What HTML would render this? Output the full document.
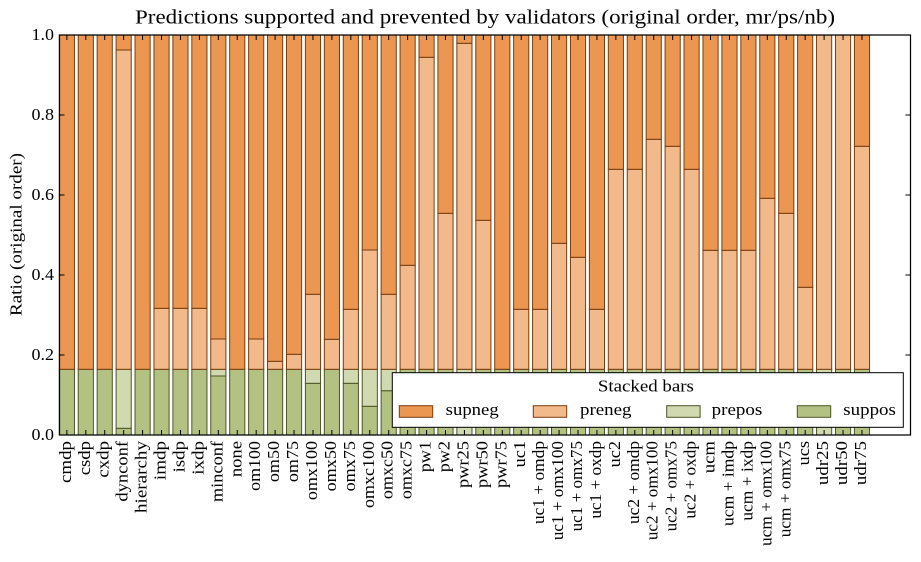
<!DOCTYPE html>
<html><head><meta charset="utf-8"><style>
html,body{margin:0;padding:0;background:#fff;}
svg{display:block;}
text{font-family:"Liberation Serif",serif;fill:#000;}
.a{fill:#b3c282;stroke:#4d5526;stroke-width:1}
.b{fill:#d0d9b0;stroke:#4d5526;stroke-width:1}
.c{fill:#f2b98b;stroke:#7a3c0c;stroke-width:1}
.d{fill:#eb9752;stroke:#7a3c0c;stroke-width:1}
.xl{font-size:17px;}
</style></head><body>
<svg width="921" height="562" viewBox="0 0 921 562" xmlns="http://www.w3.org/2000/svg">
<rect x="0" y="0" width="921" height="562" fill="#fff"/>
<text x="135" y="23.3" font-size="20" textLength="700" lengthAdjust="spacingAndGlyphs">Predictions supported and prevented by validators (original order, mr/ps/nb)</text>

<g>
<!-- 0 cmdp -->
<rect class="a" x="59.30" y="369.3" width="15.14" height="65.7"/><rect class="d" x="59.30" y="35" width="15.14" height="334.3"/>
<!-- 1 csdp -->
<rect class="a" x="78.23" y="369.3" width="15.14" height="65.7"/><rect class="d" x="78.23" y="35" width="15.14" height="334.3"/>
<!-- 2 cxdp -->
<rect class="a" x="97.16" y="369.3" width="15.14" height="65.7"/><rect class="d" x="97.16" y="35" width="15.14" height="334.3"/>
<!-- 3 dynconf -->
<rect class="a" x="116.09" y="428.3" width="15.14" height="6.7"/><rect class="b" x="116.09" y="369.3" width="15.14" height="59"/><rect class="c" x="116.09" y="50" width="15.14" height="319.3"/><rect class="d" x="116.09" y="35" width="15.14" height="15"/>
<!-- 4 hierarchy -->
<rect class="a" x="135.02" y="369.3" width="15.14" height="65.7"/><rect class="d" x="135.02" y="35" width="15.14" height="334.3"/>
<!-- 5 imdp -->
<rect class="a" x="153.96" y="369.3" width="15.14" height="65.7"/><rect class="c" x="153.96" y="308.3" width="15.14" height="61"/><rect class="d" x="153.96" y="35" width="15.14" height="273.3"/>
<!-- 6 isdp -->
<rect class="a" x="172.89" y="369.3" width="15.14" height="65.7"/><rect class="c" x="172.89" y="308.3" width="15.14" height="61"/><rect class="d" x="172.89" y="35" width="15.14" height="273.3"/>
<!-- 7 ixdp -->
<rect class="a" x="191.82" y="369.3" width="15.14" height="65.7"/><rect class="c" x="191.82" y="308.3" width="15.14" height="61"/><rect class="d" x="191.82" y="35" width="15.14" height="273.3"/>
<!-- 8 minconf -->
<rect class="a" x="210.75" y="376" width="15.14" height="59"/><rect class="b" x="210.75" y="369.3" width="15.14" height="6.7"/><rect class="c" x="210.75" y="339" width="15.14" height="30.3"/><rect class="d" x="210.75" y="35" width="15.14" height="304"/>
<!-- 9 none -->
<rect class="a" x="229.68" y="369.3" width="15.14" height="65.7"/><rect class="d" x="229.68" y="35" width="15.14" height="334.3"/>
<!-- 10 om100 -->
<rect class="a" x="248.61" y="369.3" width="15.14" height="65.7"/><rect class="c" x="248.61" y="339" width="15.14" height="30.3"/><rect class="d" x="248.61" y="35" width="15.14" height="304"/>
<!-- 11 om50 -->
<rect class="a" x="267.54" y="369.3" width="15.14" height="65.7"/><rect class="c" x="267.54" y="361.3" width="15.14" height="8"/><rect class="d" x="267.54" y="35" width="15.14" height="326.3"/>
<!-- 12 om75 -->
<rect class="a" x="286.47" y="369.3" width="15.14" height="65.7"/><rect class="c" x="286.47" y="354.3" width="15.14" height="15"/><rect class="d" x="286.47" y="35" width="15.14" height="319.3"/>
<!-- 13 omx100 -->
<rect class="a" x="305.40" y="383.3" width="15.14" height="51.7"/><rect class="b" x="305.40" y="369.3" width="15.14" height="14"/><rect class="c" x="305.40" y="294.3" width="15.14" height="75"/><rect class="d" x="305.40" y="35" width="15.14" height="259.3"/>
<!-- 14 omx50 -->
<rect class="a" x="324.33" y="369.3" width="15.14" height="65.7"/><rect class="c" x="324.33" y="339.3" width="15.14" height="30"/><rect class="d" x="324.33" y="35" width="15.14" height="304.3"/>
<!-- 15 omx75 -->
<rect class="a" x="343.27" y="383.3" width="15.14" height="51.7"/><rect class="b" x="343.27" y="369.3" width="15.14" height="14"/><rect class="c" x="343.27" y="309.3" width="15.14" height="60"/><rect class="d" x="343.27" y="35" width="15.14" height="274.3"/>
<!-- 16 omxc100 -->
<rect class="a" x="362.20" y="406.3" width="15.14" height="28.7"/><rect class="b" x="362.20" y="369.3" width="15.14" height="37"/><rect class="c" x="362.20" y="250" width="15.14" height="119.3"/><rect class="d" x="362.20" y="35" width="15.14" height="215"/>
<!-- 17 omxc50 -->
<rect class="a" x="381.13" y="390.7" width="15.14" height="44.3"/><rect class="b" x="381.13" y="369.3" width="15.14" height="21.4"/><rect class="c" x="381.13" y="294.3" width="15.14" height="75"/><rect class="d" x="381.13" y="35" width="15.14" height="259.3"/>
<!-- 18 omxc75 -->
<rect class="a" x="400.06" y="369.3" width="15.14" height="65.7"/><rect class="c" x="400.06" y="265.3" width="15.14" height="104"/><rect class="d" x="400.06" y="35" width="15.14" height="230.3"/>
<!-- 19 pw1 -->
<rect class="a" x="418.99" y="369.3" width="15.14" height="65.7"/><rect class="c" x="418.99" y="57.3" width="15.14" height="312"/><rect class="d" x="418.99" y="35" width="15.14" height="22.3"/>
<!-- 20 pw2 -->
<rect class="a" x="437.92" y="369.3" width="15.14" height="65.7"/><rect class="c" x="437.92" y="213.3" width="15.14" height="156"/><rect class="d" x="437.92" y="35" width="15.14" height="178.3"/>
<!-- 21 pwr25 -->
<rect class="b" x="456.85" y="369.3" width="15.14" height="65.7"/><rect class="c" x="456.85" y="43.3" width="15.14" height="326"/><rect class="d" x="456.85" y="35" width="15.14" height="8.3"/>
<!-- 22 pwr50 -->
<rect class="a" x="475.78" y="369.3" width="15.14" height="65.7"/><rect class="c" x="475.78" y="220.3" width="15.14" height="149"/><rect class="d" x="475.78" y="35" width="15.14" height="185.3"/>
<!-- 23 pwr75 -->
<rect class="a" x="494.71" y="369.3" width="15.14" height="65.7"/><rect class="d" x="494.71" y="35" width="15.14" height="334.3"/>
<!-- 24 uc1 -->
<rect class="a" x="513.64" y="369.3" width="15.14" height="65.7"/><rect class="c" x="513.64" y="309.3" width="15.14" height="60"/><rect class="d" x="513.64" y="35" width="15.14" height="274.3"/>
<!-- 25 uc1 + omdp -->
<rect class="a" x="532.58" y="369.3" width="15.14" height="65.7"/><rect class="c" x="532.58" y="309.3" width="15.14" height="60"/><rect class="d" x="532.58" y="35" width="15.14" height="274.3"/>
<!-- 26 uc1 + omx100 -->
<rect class="a" x="551.51" y="369.3" width="15.14" height="65.7"/><rect class="c" x="551.51" y="243.3" width="15.14" height="126"/><rect class="d" x="551.51" y="35" width="15.14" height="208.3"/>
<!-- 27 uc1 + omx75 -->
<rect class="a" x="570.44" y="369.3" width="15.14" height="65.7"/><rect class="c" x="570.44" y="257.3" width="15.14" height="112"/><rect class="d" x="570.44" y="35" width="15.14" height="222.3"/>
<!-- 28 uc1 + oxdp -->
<rect class="a" x="589.37" y="369.3" width="15.14" height="65.7"/><rect class="c" x="589.37" y="309.3" width="15.14" height="60"/><rect class="d" x="589.37" y="35" width="15.14" height="274.3"/>
<!-- 29 uc2 -->
<rect class="a" x="608.30" y="369.3" width="15.14" height="65.7"/><rect class="c" x="608.30" y="169.3" width="15.14" height="200"/><rect class="d" x="608.30" y="35" width="15.14" height="134.3"/>
<!-- 30 uc2 + omdp -->
<rect class="a" x="627.23" y="369.3" width="15.14" height="65.7"/><rect class="c" x="627.23" y="169.3" width="15.14" height="200"/><rect class="d" x="627.23" y="35" width="15.14" height="134.3"/>
<!-- 31 uc2 + omx100 -->
<rect class="a" x="646.16" y="369.3" width="15.14" height="65.7"/><rect class="c" x="646.16" y="139.3" width="15.14" height="230"/><rect class="d" x="646.16" y="35" width="15.14" height="104.3"/>
<!-- 32 uc2 + omx75 -->
<rect class="a" x="665.09" y="369.3" width="15.14" height="65.7"/><rect class="c" x="665.09" y="146.3" width="15.14" height="223"/><rect class="d" x="665.09" y="35" width="15.14" height="111.3"/>
<!-- 33 uc2 + oxdp -->
<rect class="a" x="684.02" y="369.3" width="15.14" height="65.7"/><rect class="c" x="684.02" y="169.3" width="15.14" height="200"/><rect class="d" x="684.02" y="35" width="15.14" height="134.3"/>
<!-- 34 ucm -->
<rect class="a" x="702.95" y="369.3" width="15.14" height="65.7"/><rect class="c" x="702.95" y="250.3" width="15.14" height="119"/><rect class="d" x="702.95" y="35" width="15.14" height="215.3"/>
<!-- 35 ucm + imdp -->
<rect class="a" x="721.89" y="369.3" width="15.14" height="65.7"/><rect class="c" x="721.89" y="250.3" width="15.14" height="119"/><rect class="d" x="721.89" y="35" width="15.14" height="215.3"/>
<!-- 36 ucm + ixdp -->
<rect class="a" x="740.82" y="369.3" width="15.14" height="65.7"/><rect class="c" x="740.82" y="250.3" width="15.14" height="119"/><rect class="d" x="740.82" y="35" width="15.14" height="215.3"/>
<!-- 37 ucm + omx100 -->
<rect class="a" x="759.75" y="369.3" width="15.14" height="65.7"/><rect class="c" x="759.75" y="198.3" width="15.14" height="171"/><rect class="d" x="759.75" y="35" width="15.14" height="163.3"/>
<!-- 38 ucm + omx75 -->
<rect class="a" x="778.68" y="369.3" width="15.14" height="65.7"/><rect class="c" x="778.68" y="213.3" width="15.14" height="156"/><rect class="d" x="778.68" y="35" width="15.14" height="178.3"/>
<!-- 39 ucs -->
<rect class="a" x="797.61" y="369.3" width="15.14" height="65.7"/><rect class="c" x="797.61" y="287.3" width="15.14" height="82"/><rect class="d" x="797.61" y="35" width="15.14" height="252.3"/>
<!-- 40 udr25 -->
<rect class="b" x="816.54" y="369.3" width="15.14" height="65.7"/><rect class="c" x="816.54" y="35" width="15.14" height="334.3"/>
<!-- 41 udr50 -->
<rect class="a" x="835.47" y="369.3" width="15.14" height="65.7"/><rect class="c" x="835.47" y="35" width="15.14" height="334.3"/>
<!-- 42 udr75 -->
<rect class="a" x="854.40" y="369.3" width="15.14" height="65.7"/><rect class="c" x="854.40" y="146.3" width="15.14" height="223"/><rect class="d" x="854.40" y="35" width="15.14" height="111.3"/>
</g>

<!-- ticks -->
<path stroke="#000" stroke-width="1" fill="none" d="
M66.87 435V430M85.80 435V430M104.73 435V430M123.66 435V430M142.59 435V430M161.53 435V430M180.46 435V430M199.39 435V430M218.32 435V430M237.25 435V430M256.18 435V430M275.11 435V430M294.04 435V430M312.97 435V430M331.90 435V430M350.84 435V430M369.77 435V430M388.70 435V430M407.63 435V430M426.56 435V430M445.49 435V430M464.42 435V430M483.35 435V430M502.28 435V430M521.21 435V430M540.15 435V430M559.08 435V430M578.01 435V430M596.94 435V430M615.87 435V430M634.80 435V430M653.73 435V430M672.66 435V430M691.59 435V430M710.52 435V430M729.46 435V430M748.39 435V430M767.32 435V430M786.25 435V430M805.18 435V430M824.11 435V430M843.04 435V430M861.97 435V430
M66.87 35V40M85.80 35V40M104.73 35V40M123.66 35V40M142.59 35V40M161.53 35V40M180.46 35V40M199.39 35V40M218.32 35V40M237.25 35V40M256.18 35V40M275.11 35V40M294.04 35V40M312.97 35V40M331.90 35V40M350.84 35V40M369.77 35V40M388.70 35V40M407.63 35V40M426.56 35V40M445.49 35V40M464.42 35V40M483.35 35V40M502.28 35V40M521.21 35V40M540.15 35V40M559.08 35V40M578.01 35V40M596.94 35V40M615.87 35V40M634.80 35V40M653.73 35V40M672.66 35V40M691.59 35V40M710.52 35V40M729.46 35V40M748.39 35V40M767.32 35V40M786.25 35V40M805.18 35V40M824.11 35V40M843.04 35V40M861.97 35V40
M59.5 355H64.5M59.5 275H64.5M59.5 195H64.5M59.5 115H64.5
M910.5 355H905.5M910.5 275H905.5M910.5 195H905.5M910.5 115H905.5"/>
<rect x="59.5" y="35" width="851" height="400" fill="none" stroke="#000" stroke-width="1.25"/>

<!-- y tick labels -->
<g font-size="17" text-anchor="end">
<text x="54" y="439.8" textLength="22.5" lengthAdjust="spacingAndGlyphs">0.0</text>
<text x="54" y="359.8" textLength="22.5" lengthAdjust="spacingAndGlyphs">0.2</text>
<text x="54" y="279.8" textLength="22.5" lengthAdjust="spacingAndGlyphs">0.4</text>
<text x="54" y="199.8" textLength="22.5" lengthAdjust="spacingAndGlyphs">0.6</text>
<text x="54" y="119.8" textLength="22.5" lengthAdjust="spacingAndGlyphs">0.8</text>
<text x="54" y="39.8" textLength="22.5" lengthAdjust="spacingAndGlyphs">1.0</text>
</g>
<text font-size="17" text-anchor="middle" transform="translate(21.5,234.5) rotate(-90)" textLength="163" lengthAdjust="spacingAndGlyphs">Ratio (original order)</text>

<!-- x tick labels -->
<g class="xl" text-anchor="end">
<text transform="translate(70.87,441) rotate(-90)" textLength="42" lengthAdjust="spacingAndGlyphs">cmdp</text>
<text transform="translate(89.80,441) rotate(-90)" textLength="34.3" lengthAdjust="spacingAndGlyphs">csdp</text>
<text transform="translate(108.73,441) rotate(-90)" textLength="36.7" lengthAdjust="spacingAndGlyphs">cxdp</text>
<text transform="translate(127.66,441) rotate(-90)" textLength="60.6" lengthAdjust="spacingAndGlyphs">dynconf</text>
<text transform="translate(146.59,441) rotate(-90)" textLength="72" lengthAdjust="spacingAndGlyphs">hierarchy</text>
<text transform="translate(165.53,441) rotate(-90)" textLength="39.1" lengthAdjust="spacingAndGlyphs">imdp</text>
<text transform="translate(184.46,441) rotate(-90)" textLength="31.4" lengthAdjust="spacingAndGlyphs">isdp</text>
<text transform="translate(203.39,441) rotate(-90)" textLength="33.8" lengthAdjust="spacingAndGlyphs">ixdp</text>
<text transform="translate(222.32,441) rotate(-90)" textLength="61.1" lengthAdjust="spacingAndGlyphs">minconf</text>
<text transform="translate(241.25,441) rotate(-90)" textLength="36.2" lengthAdjust="spacingAndGlyphs">none</text>
<text transform="translate(260.18,441) rotate(-90)" textLength="49.9" lengthAdjust="spacingAndGlyphs">om100</text>
<text transform="translate(279.11,441) rotate(-90)" textLength="41.1" lengthAdjust="spacingAndGlyphs">om50</text>
<text transform="translate(298.04,441) rotate(-90)" textLength="41.1" lengthAdjust="spacingAndGlyphs">om75</text>
<text transform="translate(316.97,441) rotate(-90)" textLength="59.2" lengthAdjust="spacingAndGlyphs">omx100</text>
<text transform="translate(335.90,441) rotate(-90)" textLength="50.4" lengthAdjust="spacingAndGlyphs">omx50</text>
<text transform="translate(354.84,441) rotate(-90)" textLength="50.4" lengthAdjust="spacingAndGlyphs">omx75</text>
<text transform="translate(373.77,441) rotate(-90)" textLength="67" lengthAdjust="spacingAndGlyphs">omxc100</text>
<text transform="translate(392.70,441) rotate(-90)" textLength="58.2" lengthAdjust="spacingAndGlyphs">omxc50</text>
<text transform="translate(411.63,441) rotate(-90)" textLength="58.2" lengthAdjust="spacingAndGlyphs">omxc75</text>
<text transform="translate(430.56,441) rotate(-90)" textLength="31.3" lengthAdjust="spacingAndGlyphs">pw1</text>
<text transform="translate(449.49,441) rotate(-90)" textLength="31.3" lengthAdjust="spacingAndGlyphs">pw2</text>
<text transform="translate(468.42,441) rotate(-90)" textLength="47" lengthAdjust="spacingAndGlyphs">pwr25</text>
<text transform="translate(487.35,441) rotate(-90)" textLength="47" lengthAdjust="spacingAndGlyphs">pwr50</text>
<text transform="translate(506.28,441) rotate(-90)" textLength="47" lengthAdjust="spacingAndGlyphs">pwr75</text>
<text transform="translate(525.21,441) rotate(-90)" textLength="26.4" lengthAdjust="spacingAndGlyphs">uc1</text>
<text transform="translate(544.15,441) rotate(-90)" textLength="83" lengthAdjust="spacingAndGlyphs">uc1 + omdp</text>
<text transform="translate(563.08,441) rotate(-90)" textLength="99.2" lengthAdjust="spacingAndGlyphs">uc1 + omx100</text>
<text transform="translate(582.01,441) rotate(-90)" textLength="90.4" lengthAdjust="spacingAndGlyphs">uc1 + omx75</text>
<text transform="translate(600.94,441) rotate(-90)" textLength="77.7" lengthAdjust="spacingAndGlyphs">uc1 + oxdp</text>
<text transform="translate(619.87,441) rotate(-90)" textLength="26.4" lengthAdjust="spacingAndGlyphs">uc2</text>
<text transform="translate(638.80,441) rotate(-90)" textLength="83" lengthAdjust="spacingAndGlyphs">uc2 + omdp</text>
<text transform="translate(657.73,441) rotate(-90)" textLength="99.2" lengthAdjust="spacingAndGlyphs">uc2 + omx100</text>
<text transform="translate(676.66,441) rotate(-90)" textLength="90.4" lengthAdjust="spacingAndGlyphs">uc2 + omx75</text>
<text transform="translate(695.59,441) rotate(-90)" textLength="77.7" lengthAdjust="spacingAndGlyphs">uc2 + oxdp</text>
<text transform="translate(714.52,441) rotate(-90)" textLength="32.3" lengthAdjust="spacingAndGlyphs">ucm</text>
<text transform="translate(733.46,441) rotate(-90)" textLength="85" lengthAdjust="spacingAndGlyphs">ucm + imdp</text>
<text transform="translate(752.39,441) rotate(-90)" textLength="79.7" lengthAdjust="spacingAndGlyphs">ucm + ixdp</text>
<text transform="translate(771.32,441) rotate(-90)" textLength="105" lengthAdjust="spacingAndGlyphs">ucm + omx100</text>
<text transform="translate(790.25,441) rotate(-90)" textLength="96.3" lengthAdjust="spacingAndGlyphs">ucm + omx75</text>
<text transform="translate(809.18,441) rotate(-90)" textLength="24.5" lengthAdjust="spacingAndGlyphs">ucs</text>
<text transform="translate(828.11,441) rotate(-90)" textLength="44.1" lengthAdjust="spacingAndGlyphs">udr25</text>
<text transform="translate(847.04,441) rotate(-90)" textLength="44.1" lengthAdjust="spacingAndGlyphs">udr50</text>
<text transform="translate(865.97,441) rotate(-90)" textLength="44.1" lengthAdjust="spacingAndGlyphs">udr75</text>
</g>

<!-- legend -->
<rect x="392.3" y="372.7" width="511" height="54.6" fill="#fff" stroke="#000" stroke-width="1"/>
<text x="645.9" y="391.5" font-size="17" text-anchor="middle" textLength="96" lengthAdjust="spacingAndGlyphs">Stacked bars</text>
<rect class="d" x="399.3" y="405.7" width="33.4" height="11.6"/>
<text x="445.7" y="415" font-size="17" textLength="53" lengthAdjust="spacingAndGlyphs">supneg</text>
<rect class="c" x="533.3" y="405.7" width="33.4" height="11.6"/>
<text x="580" y="415" font-size="17" textLength="51.5" lengthAdjust="spacingAndGlyphs">preneg</text>
<rect class="b" x="666.7" y="405.7" width="33.4" height="11.6"/>
<text x="711.7" y="415" font-size="17" textLength="50.6" lengthAdjust="spacingAndGlyphs">prepos</text>
<rect class="a" x="797.3" y="405.7" width="33.4" height="11.6"/>
<text x="843.3" y="415" font-size="17" textLength="52.6" lengthAdjust="spacingAndGlyphs">suppos</text>
</svg>
</body></html>
